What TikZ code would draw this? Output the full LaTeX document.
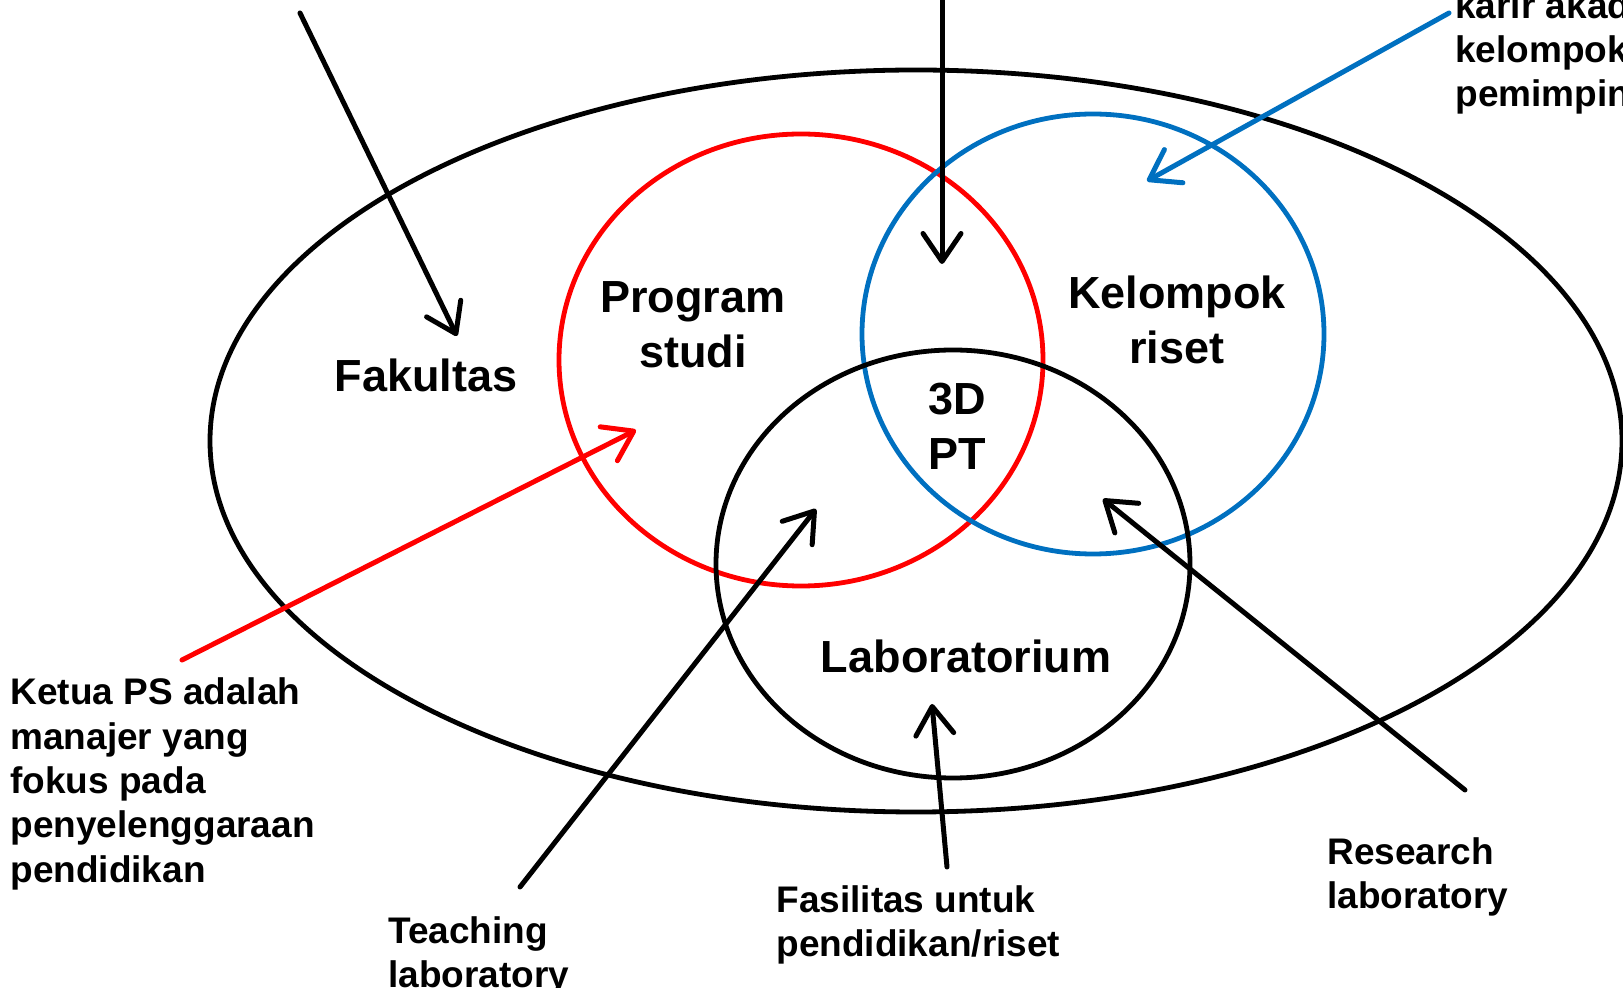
\documentclass[tikz,border=0pt]{standalone}
\usepackage{fontspec}
\setmainfont{Liberation Sans}
\usetikzlibrary{arrows.meta}
\definecolor{psred}{RGB}{255,0,0}
\definecolor{krblue}{RGB}{0,112,192}
\tikzset{
  ring/.style={line width=2.4pt},
  bigtxt/.style={font=\fontsize{22.5}{27.5}\selectfont\bfseries, align=center, inner sep=0pt},
  smalltxt/.style={font=\fontsize{18.5}{22.2}\selectfont\bfseries, align=left, inner sep=0pt, anchor=west},
  pointer/.style={line width=2.5pt, line cap=round, -{Straight Barb[length=14pt,width=19pt,round]}},
}
\begin{document}
\begin{tikzpicture}[x=0.5pt,y=-0.5pt]
\useasboundingbox (0,0) rectangle (1623,988);
\clip (0,0) rectangle (1623,988);
% regions
\draw[ring] (916,441) ellipse [x radius=706, y radius=371];
\draw[ring, psred] (801,360) ellipse [x radius=242, y radius=226];
\draw[ring, krblue] (1093,334) ellipse [x radius=231, y radius=220];
\draw[ring] (953,564) ellipse [x radius=237, y radius=214];
% region labels
\node[bigtxt] (fak) at (426,375) {Fakultas};
\node[bigtxt] (ps) at (693,325) {Program\\studi};
\node[bigtxt] (kr) at (1177,320) {Kelompok\\riset};
\node[bigtxt] (pt) at (957,426) {3D\\PT};
\node[bigtxt] (lab) at (966,656) {Laboratorium};
% outer labels
\node[smalltxt] (ketua) at (10,784) {Ketua PS adalah\\manajer yang\\fokus pada\\penyelenggaraan\\pendidikan};
\node[smalltxt] (teach) at (388,956) {Teaching\\laboratory};
\node[smalltxt] (fas) at (776,925) {Fasilitas untuk\\pendidikan/riset};
\node[smalltxt] (res) at (1327,877) {Research\\laboratory};
\node[smalltxt] (karir) at (1455,53) {karir akademik\\kelompok riset\\pemimpin};
% arrow ends
\coordinate (a1s) at (300,13);   \coordinate (a1e) at (457,336);
\coordinate (a2s) at (942,-5);   \coordinate (a2e) at (942,264);
\coordinate (a3s) at (1449,13);  \coordinate (a3e) at (1147,181);
\coordinate (a4s) at (182,660);  \coordinate (a4e) at (636,430);
\coordinate (a5s) at (520,887);  \coordinate (a5e) at (816,509);
\coordinate (a6s) at (947,867);  \coordinate (a6e) at (932,704);
\coordinate (a7s) at (1465,790); \coordinate (a7e) at (1103,499);
% pointers
\draw[pointer] (a1s) -- (a1e);
\draw[pointer] (a2s) -- (a2e);
\draw[pointer, krblue] (a3s) -- (a3e);
\draw[pointer, psred] (a4s) -- (a4e);
\draw[pointer] (a5s) -- (a5e);
\draw[pointer] (a6s) -- (a6e);
\draw[pointer] (a7s) -- (a7e);
\end{tikzpicture}
\end{document}
